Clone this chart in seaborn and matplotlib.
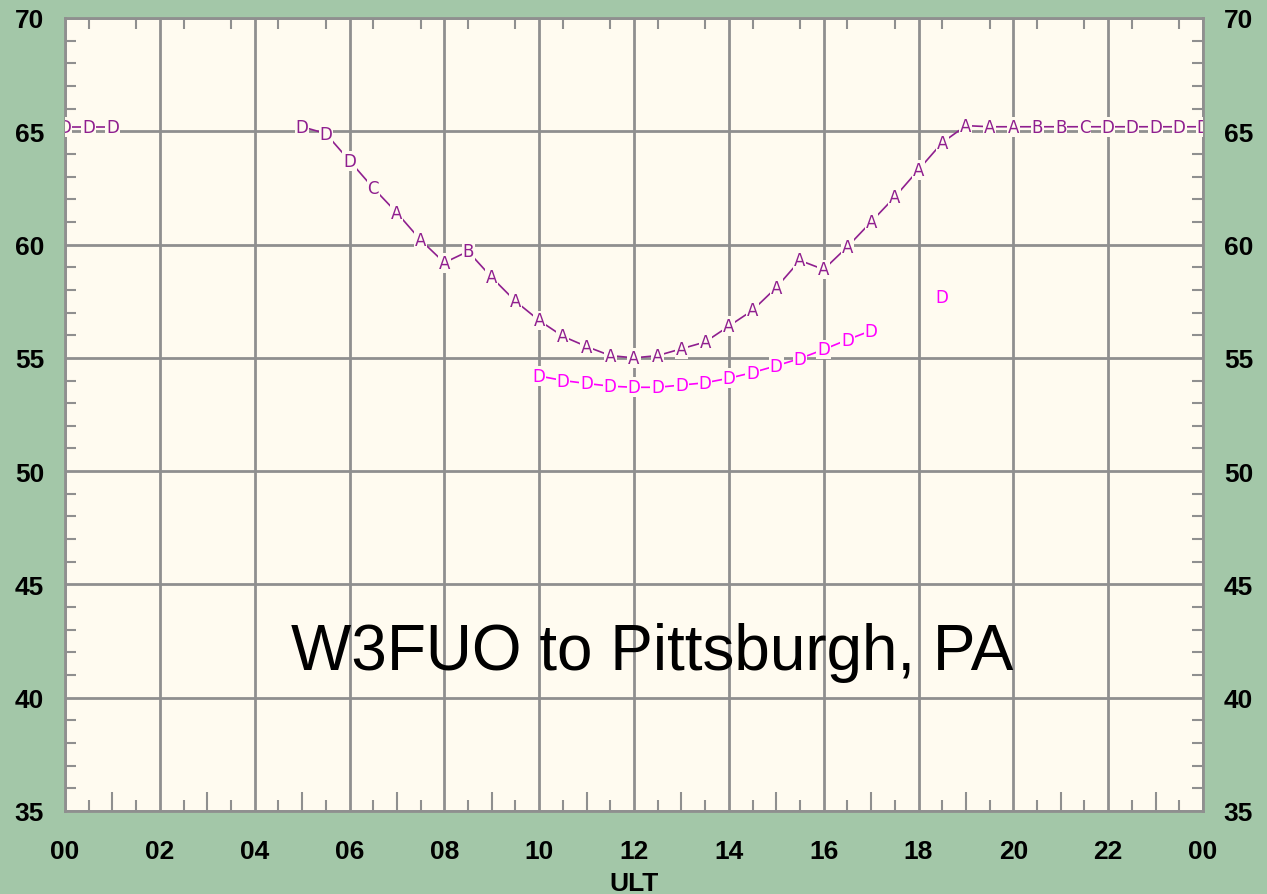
import numpy as np
import pandas as pd
import matplotlib
matplotlib.use("Agg")
import matplotlib.pyplot as plt
import seaborn as sns
from matplotlib.ticker import MultipleLocator, FixedLocator

# ---- data ----
p_hours_a = [0.0, 0.5, 1.0]
p_vals_a = [65.2, 65.2, 65.2]
p_lbls_a = ["D", "D", "D"]

p_hours_b = [5.0, 5.5, 6.0, 6.5, 7.0, 7.5, 8.0, 8.5, 9.0, 9.5, 10.0, 10.5, 11.0, 11.5,
             12.0, 12.5, 13.0, 13.5, 14.0, 14.5, 15.0, 15.5, 16.0, 16.5, 17.0, 17.5,
             18.0, 18.5, 19.0, 19.5, 20.0, 20.5, 21.0, 21.5, 22.0, 22.5, 23.0, 23.5, 24.0]
p_vals_b = [65.2, 64.9, 63.7, 62.5, 61.4, 60.2, 59.2, 59.7, 58.55, 57.5, 56.65, 55.95, 55.5, 55.1,
            55.0, 55.1, 55.4, 55.7, 56.4, 57.1, 58.1, 59.3, 58.9, 59.9, 61.0, 62.1,
            63.3, 64.5, 65.25, 65.2, 65.2, 65.2, 65.2, 65.2, 65.2, 65.2, 65.2, 65.2, 65.2]
p_lbls_b = ["D", "D", "D", "C", "A", "A", "A", "B", "A", "A", "A", "A", "A", "A",
            "A", "A", "A", "A", "A", "A", "A", "A", "A", "A", "A", "A",
            "A", "A", "A", "A", "A", "B", "B", "C", "D", "D", "D", "D", "D"]

m_hours_a = [10.0, 10.5, 11.0, 11.5, 12.0, 12.5, 13.0, 13.5, 14.0, 14.5, 15.0, 15.5, 16.0, 16.5, 17.0]
m_vals_a = [54.2, 54.0, 53.87, 53.75, 53.7, 53.7, 53.8, 53.9, 54.1, 54.35, 54.65, 54.97, 55.37, 55.8, 56.2]
m_lbls_a = ["D"] * 15

m_hours_b = [18.5]
m_vals_b = [57.7]
m_lbls_b = ["D"]

x_ticks = [0, 2, 4, 6, 8, 10, 12, 14, 16, 18, 20, 22, 24]
x_tick_labels = ["00", "02", "04", "06", "08", "10", "12", "14", "16", "18", "20", "22", "00"]
y_ticks = [35, 40, 45, 50, 55, 60, 65, 70]
title_text = "W3FUO to Pittsburgh, PA"
x_label = "ULT"

# ---- style ----
FIG_BG = "#a3c7a8"
AX_BG = "#fffbf0"
GRID = "#8f8f8f"
PURPLE = "#8f1f8f"
MAGENTA = "#ff00ff"

sns.set_theme(style="white")
plt.rcParams["font.family"] = ["Liberation Sans", "DejaVu Sans"]

fig = plt.figure(figsize=(12.67, 8.95), dpi=100, facecolor=FIG_BG)
ax = fig.add_axes([65 / 1267, 1 - 812 / 895, (1203 - 65) / 1267, (812 - 19) / 895])
ax.set_facecolor(AX_BG)

series = [
    (p_hours_a, p_vals_a, p_lbls_a, PURPLE),
    (p_hours_b, p_vals_b, p_lbls_b, PURPLE),
    (m_hours_a, m_vals_a, m_lbls_a, MAGENTA),
    (m_hours_b, m_vals_b, m_lbls_b, MAGENTA),
]

for hrs, vals, lbls, col in series:
    df = pd.DataFrame({"hour": hrs, "val": vals, "lbl": lbls})
    if len(df) > 1:
        sns.lineplot(data=df, x="hour", y="val", ax=ax, color=col, lw=1.2,
                     estimator=None, sort=False, zorder=3)
    for h, v, l in zip(df["hour"], df["val"], df["lbl"]):
        ax.text(h, v, l, color=col, fontsize=12, ha="center", va="center",
                family="DejaVu Sans", zorder=4, clip_on=True,
                bbox=dict(boxstyle="square,pad=0.05", fc=AX_BG, ec="none"))

ax.set_xlim(0, 24)
ax.set_ylim(35, 70)

ax.xaxis.set_major_locator(FixedLocator(x_ticks))
ax.set_xticklabels(x_tick_labels)
ax.xaxis.set_minor_locator(FixedLocator([h for h in range(1, 24, 2)]))
ax.yaxis.set_major_locator(FixedLocator(y_ticks))
ax.yaxis.set_minor_locator(MultipleLocator(1))

ax.grid(True, which="major", color=GRID, lw=2, zorder=1)
ax.set_axisbelow(True)

ax.tick_params(which="major", length=0, labelsize=19, labelcolor="black",
               left=True, right=True, labelleft=True, labelright=True)
ax.tick_params(axis="y", which="major", pad=15)
ax.tick_params(axis="x", which="major", pad=20)
ax.tick_params(axis="x", which="minor", direction="in", length=14, width=1.5,
               color=GRID, top=True, bottom=True)
ax.tick_params(axis="y", which="minor", direction="in", length=8, width=1.5,
               color=GRID, left=True, right=True)
for t in ax.xaxis.get_major_ticks():
    t.label1.set_fontweight("bold")
for t in ax.yaxis.get_major_ticks():
    t.label1.set_fontweight("bold")
    t.label2.set_fontweight("bold")

ax.set_xlabel(x_label, fontsize=19, fontweight="bold", labelpad=6, color="black")
ax.set_ylabel("")

for s in ax.spines.values():
    s.set_color(GRID)
    s.set_linewidth(2)

# half-hour ticks on a twin axis
ax2 = ax.twiny()
ax2.set_xlim(0, 24)
ax2.xaxis.set_major_locator(FixedLocator([h + 0.5 for h in range(24)]))
ax2.tick_params(axis="x", which="major", direction="in", length=8, width=1.5, color=GRID,
                top=True, bottom=True, labeltop=False, labelbottom=False)
for s in ax2.spines.values():
    s.set_visible(False)
ax2.grid(False)

ax.text(12.38, 42.0, title_text, fontsize=46, ha="center", va="center", color="black", zorder=5)

fig.savefig("out.png", dpi=100, facecolor=FIG_BG)
